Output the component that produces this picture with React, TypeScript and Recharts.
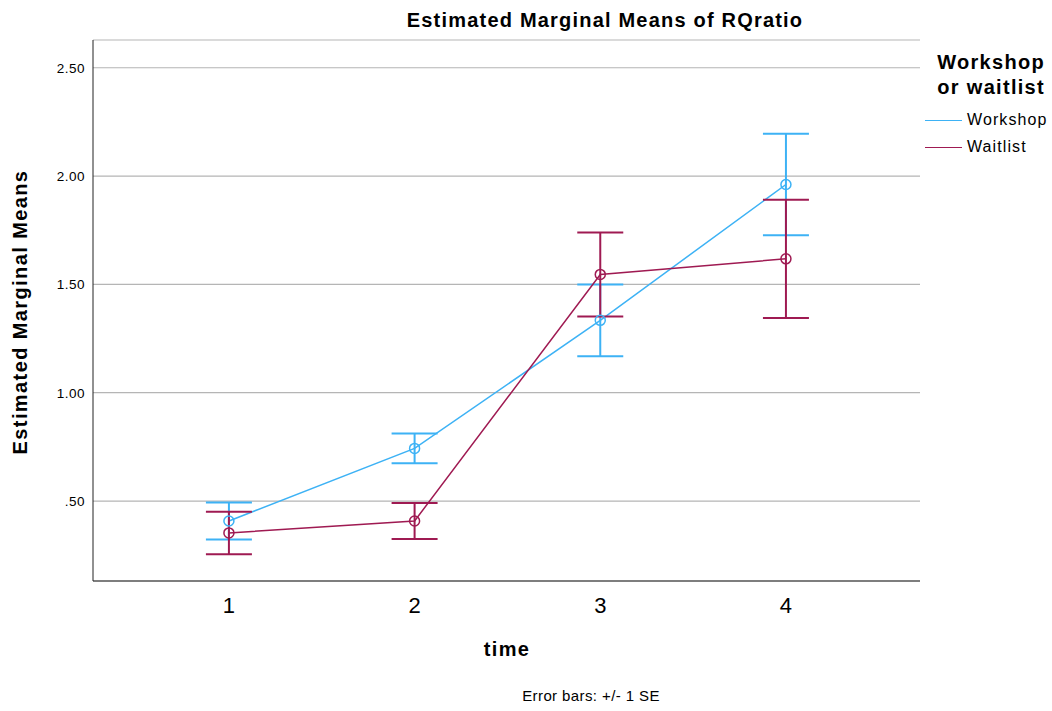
import React from 'react';
import { LineChart, Line, XAxis, YAxis, CartesianGrid, ErrorBar } from 'recharts';

const times = [1, 2, 3, 4];
const workshopMeans = [0.408, 0.743, 1.334, 1.961];
const workshopSE = [0.085, 0.069, 0.166, 0.234];
const waitlistMeans = [0.353, 0.408, 1.546, 1.618];
const waitlistSE = [0.098, 0.083, 0.194, 0.273];
const yTicks = [0.5, 1, 1.5, 2, 2.5];

const WORKSHOP = '#3db2f5';
const WAITLIST = '#9f1a52';
const FONT = "Arial, 'Liberation Sans', sans-serif";

const series = [
  { key: 'workshop', name: 'Workshop', color: WORKSHOP },
  { key: 'waitlist', name: 'Waitlist', color: WAITLIST },
];

const data = times.map((t, i) => ({
  time: t,
  workshop: workshopMeans[i],
  workshopErr: workshopSE[i],
  waitlist: waitlistMeans[i],
  waitlistErr: waitlistSE[i],
}));

const fmtY = (v: number) => v.toFixed(2).replace(/^0\./, '.');

const App: React.FC = () => {
  return (
    <div style={{ position: 'absolute', left: 0, top: 0, width: 1052, height: 711, background: '#fff', fontFamily: FONT }}>
      <LineChart width={1052} height={711} data={data} margin={{ top: 40, right: 132, bottom: 100, left: 33 }}>
        <CartesianGrid vertical={false} stroke="#b5b5b5" strokeWidth={1.2} />
        <XAxis
          dataKey="time"
          type="number"
          domain={[0.268, 4.722]}
          ticks={times}
          allowDataOverflow
          height={30}
          tickLine={false}
          tickMargin={10}
          axisLine={{ stroke: '#222' }}
          tick={{ fontSize: 22, fill: '#000', fontFamily: FONT }}
        />
        <YAxis
          type="number"
          domain={[0.131, 2.628]}
          ticks={yTicks}
          allowDataOverflow
          width={60}
          tickLine={false}
          axisLine={{ stroke: '#222' }}
          tickFormatter={fmtY}
          tick={{ fontSize: 13.5, fill: '#000', fontFamily: FONT, letterSpacing: 0.5 }}
        />
        {series.map(s => (
          <Line
            key={s.key}
            dataKey={s.key}
            name={s.name}
            stroke={s.color}
            strokeWidth={1.5}
            dot={{ r: 5, fill: 'none', stroke: s.color, strokeWidth: 1.5 }}
            activeDot={false}
            isAnimationActive={false}
          >
            <ErrorBar dataKey={`${s.key}Err`} direction="y" width={23} stroke={s.color} strokeWidth={2} />
          </Line>
        ))}
      </LineChart>

      <div style={{ position: 'absolute', left: 0, width: 1210, top: 8, textAlign: 'center', fontWeight: 'bold', fontSize: 20, letterSpacing: 1.2, lineHeight: '24px' }}>
        Estimated Marginal Means of RQratio
      </div>
      <div style={{ position: 'absolute', left: 20, top: 312, width: 0, height: 0 }}>
        <div style={{ position: 'absolute', left: -200, top: -12, width: 400, textAlign: 'center', transform: 'rotate(-90deg)', fontWeight: 'bold', fontSize: 20, letterSpacing: 1.4, lineHeight: '24px', whiteSpace: 'nowrap' }}>
          Estimated Marginal Means
        </div>
      </div>
      <div style={{ position: 'absolute', left: 307, width: 400, top: 637, textAlign: 'center', fontWeight: 'bold', fontSize: 20, letterSpacing: 1.3, lineHeight: '24px' }}>
        time
      </div>
      <div style={{ position: 'absolute', left: 391, width: 400, top: 686, textAlign: 'center', fontSize: 15, letterSpacing: 0.4, lineHeight: '20px' }}>
        Error bars: +/- 1 SE
      </div>

      <div style={{ position: 'absolute', right: 7, top: 50, textAlign: 'right', fontWeight: 'bold', fontSize: 20, letterSpacing: 1.3, lineHeight: '25px' }}>
        Workshop<br />or waitlist
      </div>
      {series.map((s, i) => (
        <div key={s.key} style={{ position: 'absolute', left: 925, top: 109 + i * 27, height: 22, display: 'flex', alignItems: 'center' }}>
          <div style={{ width: 37, height: 0, borderTop: `1.5px solid ${s.color}` }} />
          <span style={{ marginLeft: 5, fontSize: 16, letterSpacing: 1.1, lineHeight: '22px' }}>{s.name}</span>
        </div>
      ))}
    </div>
  );
};

export default App;
